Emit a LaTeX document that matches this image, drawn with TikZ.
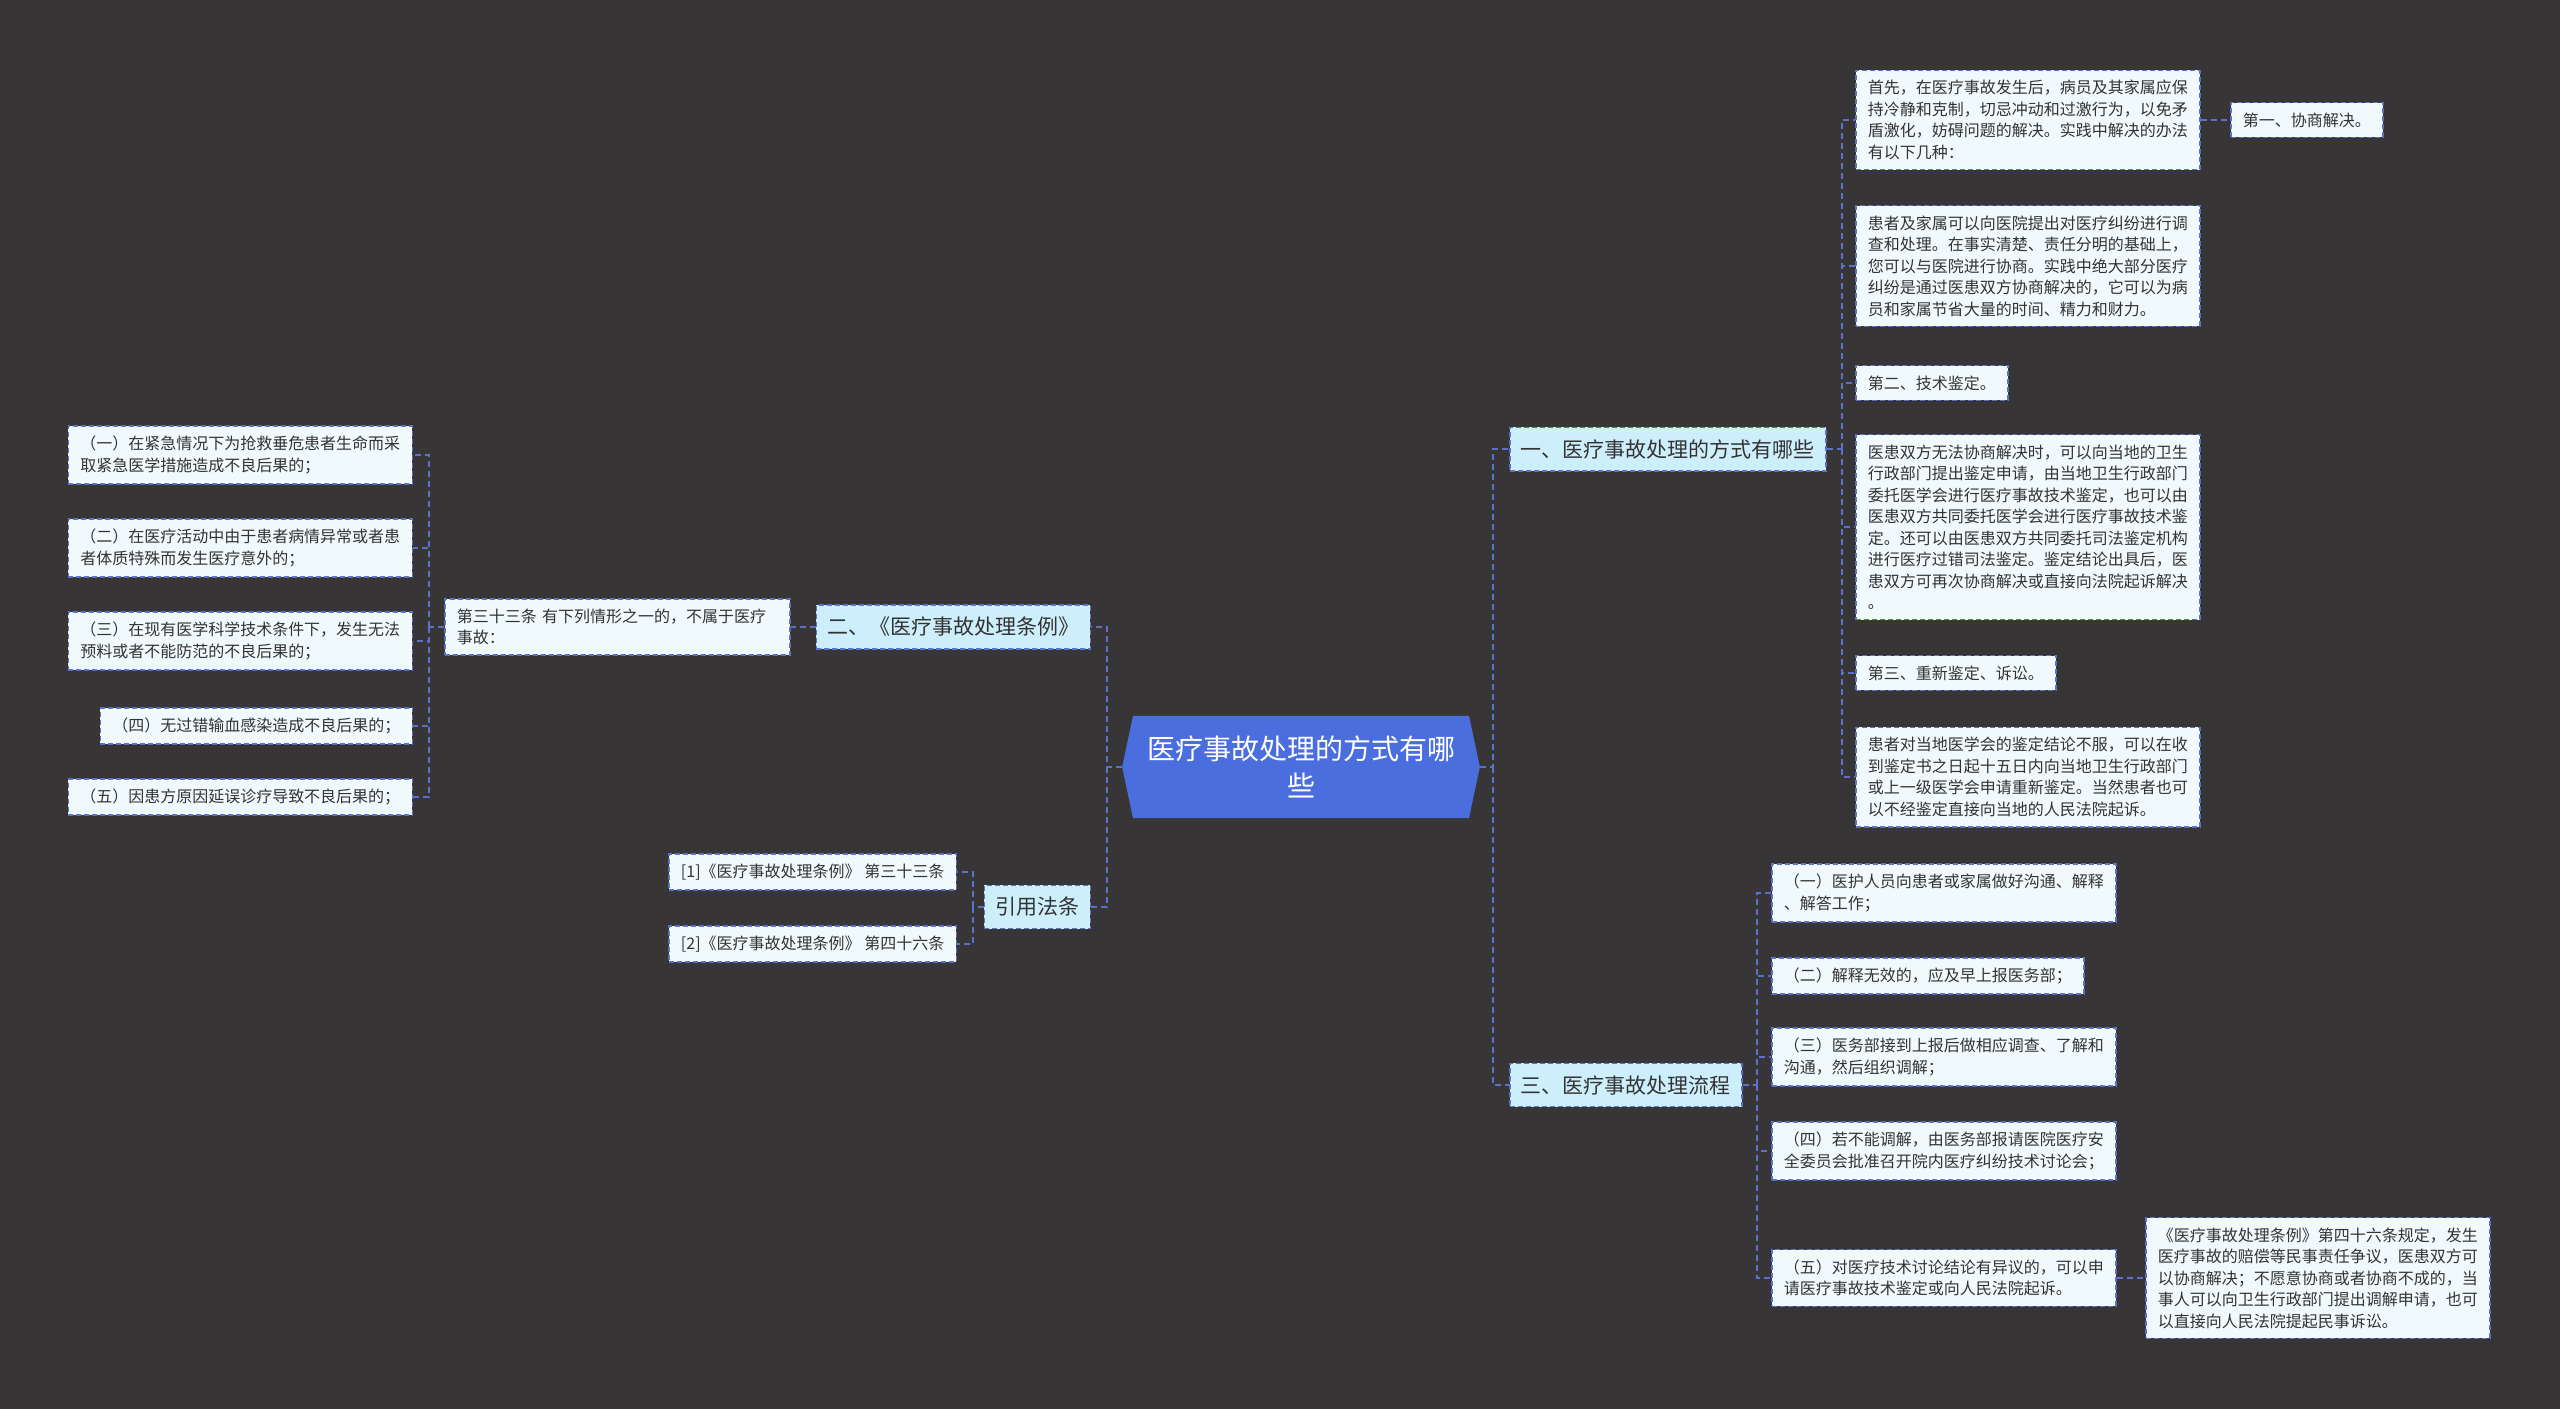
\documentclass[tikz,border=0pt]{standalone}
\usepackage{fontspec}
\usetikzlibrary{shapes.symbols}
\newfontfamily\cjk{Noto Sans CJK SC}
\definecolor{figbg}{HTML}{373536}
\definecolor{rootblue}{HTML}{4B6EDE}
\definecolor{linkblue}{HTML}{5A72CC}
\definecolor{branchfill}{HTML}{CDEFFC}
\definecolor{leaffill}{HTML}{F0FAFD}
\definecolor{figink}{HTML}{333333}

\begin{document}
\begin{tikzpicture}[
  x=1pt, y=-1pt,
  line join=miter,
  linkline/.style  = {draw=linkblue, line width=2pt, dash pattern=on 6pt off 4pt},
  rootnode/.style  = {signal, signal to=west and east, signal pointer angle=156,
                      fill=rootblue, text=white, align=center,
                      font=\cjk\fontsize{28pt}{37pt}\selectfont,
                      inner xsep=14pt, inner ysep=20pt},
  branchbox/.style = {draw=linkblue, line width=1.5pt, dash pattern=on 5pt off 3pt,
                      fill=branchfill, text=figink,
                      font=\cjk\fontsize{21pt}{26pt}\selectfont,
                      inner xsep=11pt, inner ysep=12pt},
  leafbox/.style   = {draw=linkblue, line width=1.5pt, dash pattern=on 5pt off 3pt,
                      fill=leaffill, text=figink, align=left,
                      font=\cjk\fontsize{16pt}{21.5pt}\selectfont,
                      inner xsep=12pt, inner ysep=10pt},
  leafwide/.style  = {text width=320pt}
]

% 背景
\fill[figbg] (0,0) rectangle (2560,1409);

% 中心主题
\node[rootnode] (root) at (1301,767) {医疗事故处理的方式有哪\\些};

% 一级分支
\node[branchbox, anchor=west] (m1) at (1509,449)  {一、医疗事故处理的方式有哪些};
\node[branchbox, anchor=east] (m2) at (1091,627)  {二、《医疗事故处理条例》};
\node[branchbox, anchor=east] (m3) at (1091,907)  {引用法条};
\node[branchbox, anchor=west] (m4) at (1509,1085) {三、医疗事故处理流程};

% 分支一的内容
\node[leafbox, leafwide, anchor=west] (a1) at (1855,120) {首先，在医疗事故发生后，病员及其家属应保\\持冷静和克制，切忌冲动和过激行为，以免矛\\盾激化，妨碍问题的解决。实践中解决的办法\\有以下几种：};
\node[leafbox, anchor=west] (a1x) at (2230,120) {第一、协商解决。};
\node[leafbox, leafwide, anchor=west] (a2) at (1855,266) {患者及家属可以向医院提出对医疗纠纷进行调\\查和处理。在事实清楚、责任分明的基础上，\\您可以与医院进行协商。实践中绝大部分医疗\\纠纷是通过医患双方协商解决的，它可以为病\\员和家属节省大量的时间、精力和财力。};
\node[leafbox, anchor=west] (a3) at (1855,383) {第二、技术鉴定。};
\node[leafbox, leafwide, anchor=west] (a4) at (1855,527) {医患双方无法协商解决时，可以向当地的卫生\\行政部门提出鉴定申请，由当地卫生行政部门\\委托医学会进行医疗事故技术鉴定，也可以由\\医患双方共同委托医学会进行医疗事故技术鉴\\定。还可以由医患双方共同委托司法鉴定机构\\进行医疗过错司法鉴定。鉴定结论出具后，医\\患双方可再次协商解决或直接向法院起诉解决\\。};
\node[leafbox, anchor=west] (a5) at (1855,673) {第三、重新鉴定、诉讼。};
\node[leafbox, leafwide, anchor=west] (a6) at (1855,777) {患者对当地医学会的鉴定结论不服，可以在收\\到鉴定书之日起十五日内向当地卫生行政部门\\或上一级医学会申请重新鉴定。当然患者也可\\以不经鉴定直接向当地的人民法院起诉。};

% 分支三的内容
\node[leafbox, leafwide, anchor=west] (c1) at (1771,893)  {（一）医护人员向患者或家属做好沟通、解释\\、解答工作；};
\node[leafbox, anchor=west] (c2) at (1771,976)  {（二）解释无效的，应及早上报医务部；};
\node[leafbox, leafwide, anchor=west] (c3) at (1771,1057) {（三）医务部接到上报后做相应调查、了解和\\沟通，然后组织调解；};
\node[leafbox, leafwide, anchor=west] (c4) at (1771,1151) {（四）若不能调解，由医务部报请医院医疗安\\全委员会批准召开院内医疗纠纷技术讨论会；};
\node[leafbox, leafwide, anchor=west] (c5) at (1771,1278) {（五）对医疗技术讨论结论有异议的，可以申\\请医疗事故技术鉴定或向人民法院起诉。};
\node[leafbox, leafwide, anchor=west] (d1) at (2145,1278) {《医疗事故处理条例》第四十六条规定，发生\\医疗事故的赔偿等民事责任争议，医患双方可\\以协商解决；不愿意协商或者协商不成的，当\\事人可以向卫生行政部门提出调解申请，也可\\以直接向人民法院提起民事诉讼。};

% 分支二的内容
\node[leafbox, text width=321pt, anchor=west] (e1) at (444,627) {第三十三条 有下列情形之一的，不属于医疗\\事故：};
\node[leafbox, leafwide, anchor=east] (f1) at (413,455) {（一）在紧急情况下为抢救垂危患者生命而采\\取紧急医学措施造成不良后果的；};
\node[leafbox, leafwide, anchor=east] (f2) at (413,548) {（二）在医疗活动中由于患者病情异常或者患\\者体质特殊而发生医疗意外的；};
\node[leafbox, leafwide, anchor=east] (f3) at (413,641) {（三）在现有医学科学技术条件下，发生无法\\预料或者不能防范的不良后果的；};
\node[leafbox, anchor=east] (f4) at (413,726) {（四）无过错输血感染造成不良后果的；};
\node[leafbox, anchor=east] (f5) at (413,797) {（五）因患方原因延误诊疗导致不良后果的；};

% 引用法条
\node[leafbox, anchor=east] (g1) at (957,872) {[1]《医疗事故处理条例》 第三十三条};
\node[leafbox, anchor=east] (g2) at (957,944) {[2]《医疗事故处理条例》 第四十六条};

% 连接点
\coordinate (rj) at (1493,767);
\coordinate (lj) at (1107,767);
\coordinate (j1) at (1842,449);
\coordinate (j4) at (1757,1085);
\coordinate (je) at (429,627);
\coordinate (jg) at (973,907);

% 中心 -> 一级分支
\draw[linkline] (root.east) -- (rj) |- (m1.west);
\draw[linkline] (rj) |- (m4.west);
\draw[linkline] (root.west) -- (lj) |- (m2.east);
\draw[linkline] (lj) |- (m3.east);

% 分支一
\draw[linkline] (m1.east) -- (j1);
\draw[linkline] (j1) |- (a1.west);
\draw[linkline] (j1) |- (a2.west);
\draw[linkline] (j1) |- (a3.west);
\draw[linkline] (j1) |- (a4.west);
\draw[linkline] (j1) |- (a5.west);
\draw[linkline] (j1) |- (a6.west);
\draw[linkline] (a1.east) -- (a1x.west);

% 分支三
\draw[linkline] (m4.east) -- (j4);
\draw[linkline] (j4) |- (c1.west);
\draw[linkline] (j4) |- (c2.west);
\draw[linkline] (j4) |- (c3.west);
\draw[linkline] (j4) |- (c4.west);
\draw[linkline] (j4) |- (c5.west);
\draw[linkline] (c5.east) -- (d1.west);

% 分支二
\draw[linkline] (m2.west) -- (e1.east);
\draw[linkline] (e1.west) -- (je);
\draw[linkline] (je) |- (f1.east);
\draw[linkline] (je) |- (f2.east);
\draw[linkline] (je) |- (f3.east);
\draw[linkline] (je) |- (f4.east);
\draw[linkline] (je) |- (f5.east);

% 引用法条
\draw[linkline] (m3.west) -- (jg);
\draw[linkline] (jg) |- (g1.east);
\draw[linkline] (jg) |- (g2.east);

\end{tikzpicture}
\end{document}
